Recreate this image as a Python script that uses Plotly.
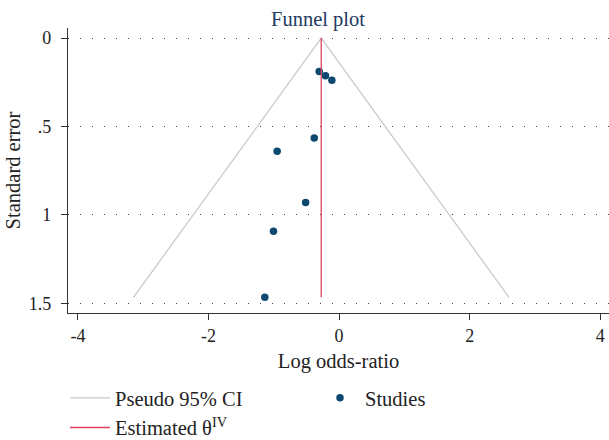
import plotly.graph_objects as go

# Data
log_or = [-0.305, -0.209, -0.111, -0.381, -0.949, -0.513, -1.005, -1.138]
std_err = [0.189, 0.213, 0.238, 0.566, 0.641, 0.931, 1.093, 1.467]
theta_iv = -0.274
z95 = 1.96
se_max = max(std_err)

x_ticks = [-4, -2, 0, 2, 4]
x_ticktext = ["-4", "-2", "0", "2", "4"]
y_ticks = [0, 0.5, 1, 1.5]
y_ticktext = ["0", ".5", "1", "1.5"]

FONT = "Liberation Serif"

fig = go.Figure()

# Pseudo 95% CI funnel
fig.add_trace(go.Scatter(
    x=[theta_iv - z95 * se_max, theta_iv, theta_iv + z95 * se_max],
    y=[se_max, 0, se_max],
    mode="lines",
    line=dict(color="#c8c8c8", width=1.2),
    name="Pseudo 95% CI",
))

# Studies
fig.add_trace(go.Scatter(
    x=log_or, y=std_err, mode="markers",
    marker=dict(color="#0c4870", size=7.5),
    name="Studies",
))

# Estimated theta line
fig.add_trace(go.Scatter(
    x=[theta_iv, theta_iv], y=[0, se_max], mode="lines",
    line=dict(color="#e0405e", width=1.3),
    name="Estimated θ<sup>IV</sup>",
))

fig.update_layout(
    width=609, height=440,
    margin=dict(l=68, r=0, t=28, b=127, autoexpand=False),
    paper_bgcolor="white", plot_bgcolor="white",
    font=dict(family=FONT, size=18, color="#222"),
    title=dict(text="Funnel plot", x=318 / 609, xanchor="center", xref="container",
               y=1 - 19 / 440, yanchor="middle", yref="container",
               font=dict(family=FONT, size=20.5, color="#1e3a62")),
    showlegend=True,
    legend=dict(orientation="h", x=65 / 609, xanchor="left", xref="container",
                y=1 - 378 / 440, yanchor="top", yref="container",
                entrywidth=195, itemwidth=40, tracegroupgap=0,
                font=dict(family=FONT, size=20.5, color="#222"),
                bgcolor="rgba(0,0,0,0)"),
)

fig.update_xaxes(
    range=[-4.152, 4.133],
    tickvals=x_ticks, ticktext=x_ticktext,
    showline=True, linecolor="#333", linewidth=1.3,
    ticks="outside", ticklen=6, tickcolor="#333", tickwidth=1.3,
    showgrid=False, zeroline=False,
    title=dict(text="Log odds-ratio", standoff=8, font=dict(family=FONT, size=20.5)),
    tickfont=dict(family=FONT, size=18),
)

fig.update_yaxes(
    range=[1.5555, -0.057],
    tickvals=y_ticks, ticktext=y_ticktext,
    showline=True, linecolor="#333", linewidth=1.3,
    ticks="outside", ticklen=6, tickcolor="#333", tickwidth=1.3,
    ticklabelstandoff=6,
    showgrid=True, gridcolor="#444", gridwidth=1, griddash="1px,11px",
    zeroline=False,
    title=dict(text="Standard error", standoff=2, font=dict(family=FONT, size=20.5)),
    tickfont=dict(family=FONT, size=18),
)

fig.write_html("out.html")
